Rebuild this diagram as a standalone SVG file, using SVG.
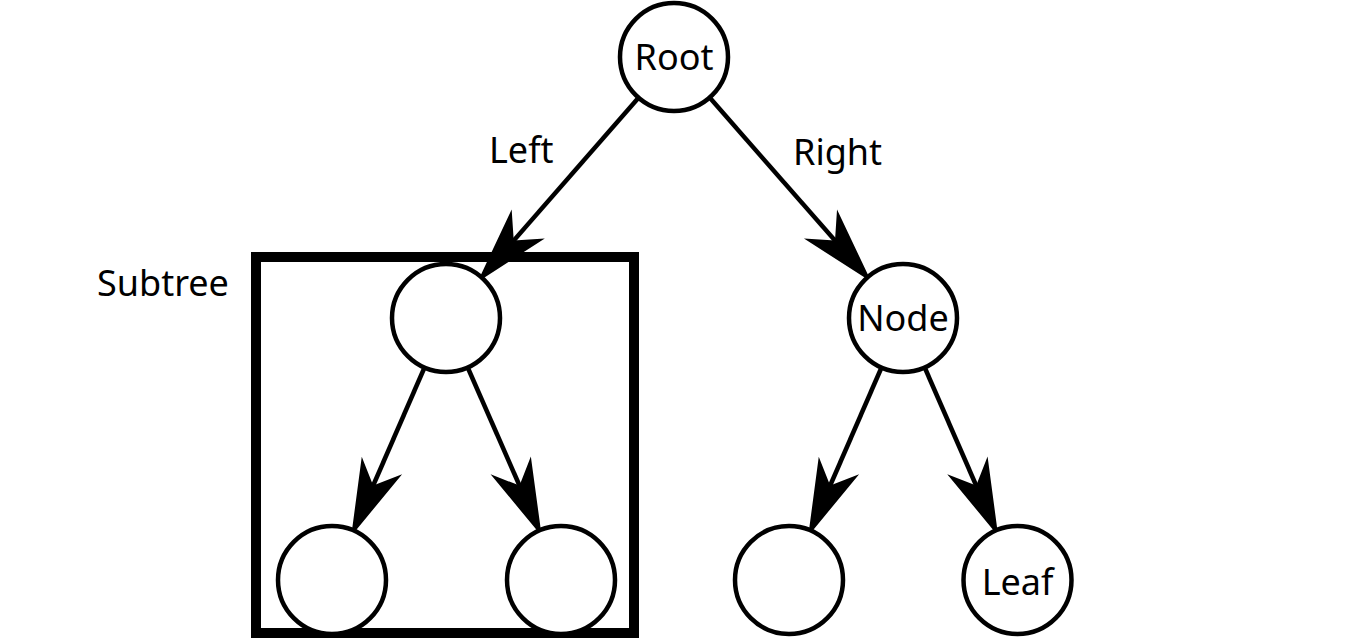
<svg xmlns="http://www.w3.org/2000/svg" width="1350" height="638" viewBox="0 0 1350 638">
<style>
.node circle{fill:#fff;stroke:#000;stroke-width:4.5}
.lbl{font-family:"Noto Sans","Open Sans","DejaVu Sans",sans-serif;font-size:36px;fill:#000}
.mid{text-anchor:middle}
.edge{stroke:#000;stroke-width:4.5;fill:none;marker-end:url(#stealth)}
</style>
<defs>
<marker id="stealth" viewBox="-50 -25 85 50" markerWidth="85" markerHeight="50" refX="0" refY="0" orient="auto" markerUnits="userSpaceOnUse">
<path d="M30,0 L-47,-22 L-25,0 L-47,22 Z" fill="#000"/>
</marker>
</defs>
<rect width="1350" height="638" fill="#fff"/>
<g id="subtree-box">
<rect x="256" y="257" width="378" height="376" fill="none" stroke="#000" stroke-width="10"/>
<text class="lbl" x="97" y="296">Subtree</text>
</g>
<g id="connectors">
<path class="edge" d="M638.5,97.7 L497.3,259.3"/>
<path class="edge" d="M709.6,97.6 L851.5,259.3"/>
<path class="edge" d="M424.5,367.5 L363.2,508.5"/>
<path class="edge" d="M467.7,367.5 L529.6,508.5"/>
<path class="edge" d="M881.5,367.5 L820.2,508.5"/>
<path class="edge" d="M924.7,367.5 L986.2,508.5"/>
<text class="lbl" x="489" y="163">Left</text>
<text class="lbl" x="793" y="165">Right</text>
</g>
<g id="root" class="node"><circle cx="674" cy="57" r="54"/><text class="lbl mid" x="674" y="70">Root</text></g>
<g id="left-child" class="node"><circle cx="446" cy="318" r="54"/></g>
<g id="node" class="node"><circle cx="903" cy="318" r="54"/><text class="lbl mid" x="903" y="331">Node</text></g>
<g id="left-left" class="node"><circle cx="332" cy="580" r="54"/></g>
<g id="left-right" class="node"><circle cx="561" cy="580" r="54"/></g>
<g id="node-left" class="node"><circle cx="789" cy="580" r="54"/></g>
<g id="leaf" class="node"><circle cx="1017.5" cy="580" r="54"/><text class="lbl mid" x="1017.5" y="595">Leaf</text></g>
</svg>
